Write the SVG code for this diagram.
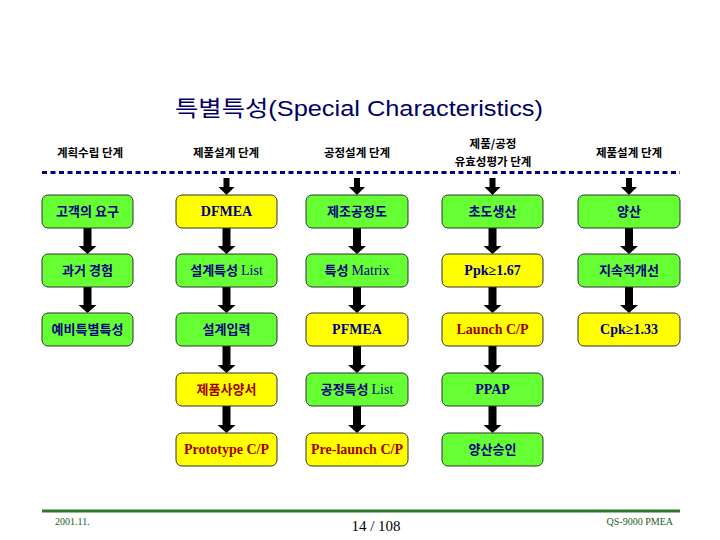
<svg xmlns="http://www.w3.org/2000/svg" width="720" height="540" viewBox="0 0 720 540">
<defs>
<style>
.g{fill:#66ff33;stroke:#333;stroke-width:1}
.y{fill:#ffff00;stroke:#333;stroke-width:1}
.k{font-family:"Noto Sans CJK KR","Liberation Sans",sans-serif;font-weight:bold;font-size:13px;fill:#000080;text-anchor:middle}
.e{font-family:"Liberation Serif","Noto Sans CJK KR",serif;font-weight:bold;font-size:14px;fill:#000080;text-anchor:middle}
.r{fill:#a00000}
.st{font-family:"Noto Sans CJK KR","Liberation Sans",sans-serif;font-weight:bold;font-size:11.5px;fill:#000;text-anchor:middle}
.ft{font-family:"Liberation Serif","Noto Sans CJK KR",serif;font-size:10px;fill:#1a5e1a}
.ar{fill:#000}
</style>
<g id="arr"><polygon class="ar" points="-4,0 4,0 4,18 9,18 0,26 -9,18 -4,18"/></g>
<g id="arr2"><polygon class="ar" points="-4,0 4,0 4,19 9,19 0,27 -9,19 -4,19"/></g>
<g id="tarr"><polygon class="ar" points="-3,0 3,0 3,9 8,9 0,17 -8,9 -3,9"/></g>
</defs>
<rect width="720" height="540" fill="#fff"/>
<text x="359" y="116" font-family="Liberation Sans,Noto Sans CJK KR,sans-serif" font-size="22" fill="#000066" text-anchor="middle" textLength="368" lengthAdjust="spacingAndGlyphs">특별특성(Special Characteristics)</text>
<g id="stages">
<text class="st" x="90" y="157">계획수립 단계</text>
<text class="st" x="226" y="157">제품설계 단계</text>
<text class="st" x="357" y="157">공정설계 단계</text>
<text class="st" x="493" y="148">제품/공정</text>
<text class="st" x="493" y="166">유효성평가 단계</text>
<text class="st" x="629" y="157">제품설계 단계</text>
</g>
<line x1="42" y1="172.5" x2="680" y2="172.5" stroke="#000080" stroke-width="3" stroke-dasharray="5,3.5"/>
<g id="connectors">
<use href="#tarr" x="226.5" y="178"/>
<use href="#tarr" x="357" y="178"/>
<use href="#tarr" x="492.5" y="178"/>
<use href="#tarr" x="629" y="178"/>
<use href="#arr" x="87.5" y="228"/>
<use href="#arr" x="87.5" y="287"/>
<use href="#arr" x="226.5" y="228"/>
<use href="#arr" x="226.5" y="287"/>
<use href="#arr2" x="226.5" y="346"/>
<use href="#arr2" x="226.5" y="406"/>
<use href="#arr" x="357" y="228"/>
<use href="#arr" x="357" y="287"/>
<use href="#arr2" x="357" y="346"/>
<use href="#arr2" x="357" y="406"/>
<use href="#arr" x="492.5" y="228"/>
<use href="#arr" x="492.5" y="287"/>
<use href="#arr2" x="492.5" y="346"/>
<use href="#arr2" x="492.5" y="406"/>
<use href="#arr" x="629" y="228"/>
<use href="#arr" x="629" y="287"/>
</g>
<g id="n11"><rect class="g" x="42" y="195" width="91" height="33" rx="6"/><text class="k" x="87.5" y="216">고객의 요구</text></g>
<g id="n12"><rect class="g" x="42" y="254" width="91" height="33" rx="6"/><text class="k" x="87.5" y="275">과거 경험</text></g>
<g id="n13"><rect class="g" x="42" y="313" width="91" height="33" rx="6"/><text class="k" x="87.5" y="334">예비특별특성</text></g>
<g id="n21"><rect class="y" x="176" y="195" width="101" height="33" rx="6"/><text class="e" x="226.5" y="216">DFMEA</text></g>
<g id="n22"><rect class="g" x="176" y="254" width="101" height="33" rx="6"/><text class="k" x="226.5" y="275">설계특성 <tspan font-family="Liberation Serif,serif" font-weight="normal" font-size="14">List</tspan></text></g>
<g id="n23"><rect class="g" x="176" y="313" width="101" height="33" rx="6"/><text class="k" x="226.5" y="334">설계입력</text></g>
<g id="n24"><rect class="y" x="176" y="373" width="101" height="33" rx="6"/><text class="k r" x="226.5" y="394">제품사양서</text></g>
<g id="n25"><rect class="y" x="176" y="433" width="101" height="33" rx="6"/><text class="e r" x="226.5" y="454">Prototype C/P</text></g>
<g id="n31"><rect class="g" x="306" y="195" width="102" height="33" rx="6"/><text class="k" x="357" y="216">제조공정도</text></g>
<g id="n32"><rect class="g" x="306" y="254" width="102" height="33" rx="6"/><text class="k" x="357" y="275">특성 <tspan font-family="Liberation Serif,serif" font-weight="normal" font-size="14">Matrix</tspan></text></g>
<g id="n33"><rect class="y" x="306" y="313" width="102" height="33" rx="6"/><text class="e" x="357" y="334" font-weight="normal">PFMEA</text></g>
<g id="n34"><rect class="g" x="306" y="373" width="102" height="33" rx="6"/><text class="k" x="357" y="394">공정특성 <tspan font-family="Liberation Serif,serif" font-weight="normal" font-size="14">List</tspan></text></g>
<g id="n35"><rect class="y" x="306" y="433" width="102" height="33" rx="6"/><text class="e r" x="357" y="454">Pre-launch C/P</text></g>
<g id="n41"><rect class="g" x="442" y="195" width="101" height="33" rx="6"/><text class="k" x="492.5" y="216">초도생산</text></g>
<g id="n42"><rect class="y" x="442" y="254" width="101" height="33" rx="6"/><text class="e" x="492.5" y="275">Ppk≥1.67</text></g>
<g id="n43"><rect class="y" x="442" y="313" width="101" height="33" rx="6"/><text class="e r" x="492.5" y="334">Launch C/P</text></g>
<g id="n44"><rect class="g" x="442" y="373" width="101" height="33" rx="6"/><text class="e" x="492.5" y="394" font-weight="normal">PPAP</text></g>
<g id="n45"><rect class="g" x="442" y="433" width="101" height="33" rx="6"/><text class="k" x="492.5" y="454">양산승인</text></g>
<g id="n51"><rect class="g" x="578" y="195" width="102" height="33" rx="6"/><text class="k" x="629" y="216">양산</text></g>
<g id="n52"><rect class="g" x="578" y="254" width="102" height="33" rx="6"/><text class="k" x="629" y="275">지속적개선</text></g>
<g id="n53"><rect class="y" x="578" y="313" width="102" height="33" rx="6"/><text class="e" x="629" y="334">Cpk≥1.33</text></g>
<g id="footer">
<line x1="42" y1="511" x2="680" y2="511" stroke="#2a7a2a" stroke-width="3"/>
<text class="ft" x="55" y="525">2001.11.</text>
<text class="ft" x="673" y="525" text-anchor="end">QS-9000 PMEA</text>
<text x="376" y="531" font-family="Liberation Serif,serif" font-size="15" fill="#000" text-anchor="middle">14 / 108</text>
</g>
</svg>
